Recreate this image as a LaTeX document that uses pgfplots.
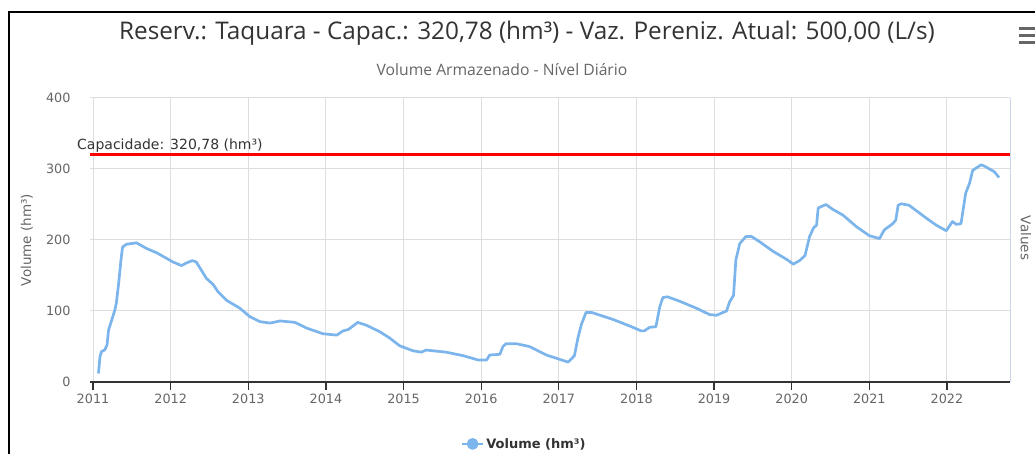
\documentclass[border=0pt]{standalone}
\usepackage{pgfplots}
\pgfplotsset{compat=1.18}
\usepackage{fontspec}
\setmainfont{DejaVu Sans}
\newfontfamily\titlefont{Open Sans}
\definecolor{hcblue}{HTML}{7CB5EC}
\definecolor{hcgrid}{HTML}{DDDDDD}
\definecolor{hcaxis}{HTML}{CCD6EB}
\definecolor{txtdark}{HTML}{333333}
\definecolor{txtgrey}{HTML}{666666}
\begin{document}
\begin{tikzpicture}[x=1pt,y=1pt]
\path[use as bounding box] (0,0) rectangle (1035,454);
\draw[black, line width=1.5pt] (9,-2) -- (9,442) -- (1037,442);
% title and subtitle
\node[text=txtdark, font=\titlefont\fontsize{24.3}{27}\selectfont] at (527,421) {Reserv.: Taquara - Capac.: 320,78 (hm³) - Vaz. Pereniz. Atual: 500,00 (L/s)};
\node[text=txtgrey, font=\titlefont\fontsize{15.7}{18}\selectfont] at (502,384) {Volume Armazenado - Nível Diário};
\node[text=txtgrey, rotate=90, font=\fontsize{13.5}{16}\selectfont] at (27,214) {Volume (hm³)};
\node[text=txtgrey, rotate=-90, font=\fontsize{13.5}{16}\selectfont] at (1026,216) {Values};
% menu icon
\foreach \yy in {425,418,411} \draw[txtgrey, line width=3pt] (1019,\yy) -- (1037,\yy);
\begin{axis}[
  at={(90pt,72pt)}, anchor=south west,
  scale only axis, width=920pt, height=284pt,
  xmin=2010.961, xmax=2022.811, ymin=0, ymax=400,
  xtick={2011,2012,...,2022}, ytick={0,100,200,300,400},
  grid=major, major grid style={hcgrid, line width=1pt},
  axis x line*=bottom, axis y line*=left,
  x axis line style={txtdark, line width=1.2pt, -},
  y axis line style={draw=none},
  xtick style={txtdark, line width=1.2pt},
  ytick style={draw=none},
  tick align=outside, major tick length=8pt,
  x tick label style={/pgf/number format/1000 sep={}, text=txtgrey, font=\fontsize{12.8}{15}\selectfont},
  y tick label style={text=txtgrey, font=\fontsize{12.8}{15}\selectfont, xshift=-8pt},
  /pgf/number format/assume math mode=true,
  clip mode=individual,
  legend style={at={(0.472,-0.218)}, anchor=center, draw=none, fill=none, font=\bfseries\fontsize{13}{15}\selectfont, text=txtdark},
  legend image code/.code={\draw[hcblue, line width=2.5pt] (0pt,0pt) -- (21pt,0pt); \fill[hcblue] (10.5pt,0pt) circle (4.5pt);},
  after end axis/.code={\draw[hcaxis, line width=1pt] (rel axis cs:1,0) -- (rel axis cs:1,1);},
]
\addplot[red, line width=3pt, forget plot] coordinates {(2010.961,320.78) (2022.811,320.78)};
\addplot[hcblue, line width=2.7pt, line join=round] coordinates {
(2011.07,12) (2011.09,36) (2011.11,43) (2011.15,45) (2011.18,52) (2011.20,73) (2011.24,87) (2011.28,101) (2011.30,111) (2011.33,139) (2011.36,172) (2011.38,190) (2011.43,194) (2011.56,196) (2011.69,188) (2011.82,182) (2012.03,169) (2012.14,164) (2012.21,168) (2012.28,171) (2012.33,169) (2012.46,146) (2012.55,137) (2012.61,127) (2012.72,115) (2012.89,104) (2013.02,92) (2013.15,85) (2013.28,83) (2013.41,86) (2013.60,84) (2013.75,76) (2013.96,68) (2014.14,66) (2014.22,72) (2014.29,74) (2014.41,84) (2014.52,80) (2014.69,71) (2014.82,62) (2014.95,51) (2015.12,44) (2015.23,42) (2015.29,45) (2015.55,42) (2015.77,37) (2015.96,31) (2016.07,31) (2016.11,38) (2016.24,39) (2016.28,50) (2016.32,54) (2016.45,54) (2016.62,50) (2016.84,38) (2017.12,28) (2017.20,37) (2017.25,64) (2017.29,81) (2017.35,98) (2017.42,98) (2017.70,88) (2017.91,79) (2018.06,72) (2018.10,72) (2018.17,77) (2018.25,78) (2018.30,106) (2018.34,119) (2018.40,120) (2018.55,114) (2018.77,104) (2018.94,95) (2019.03,94) (2019.16,100) (2019.20,113) (2019.25,122) (2019.28,172) (2019.33,195) (2019.41,205) (2019.48,205) (2019.58,198) (2019.76,184) (2019.93,173) (2020.02,166) (2020.10,171) (2020.17,178) (2020.23,205) (2020.28,217) (2020.32,221) (2020.34,245) (2020.44,250) (2020.53,243) (2020.66,235) (2020.83,219) (2021.00,206) (2021.13,202) (2021.19,214) (2021.30,223) (2021.34,228) (2021.37,249) (2021.41,251) (2021.51,249) (2021.73,231) (2021.86,221) (2021.99,213) (2022.07,226) (2022.12,222) (2022.18,223) (2022.24,266) (2022.29,280) (2022.33,298) (2022.44,306) (2022.50,303) (2022.61,296) (2022.67,288)
};
\addlegendentry{Volume (hm³)}
\node[anchor=base west, inner sep=0pt, text=txtdark, font=\fontsize{14}{16}\selectfont, xshift=-13pt, yshift=5pt] at (axis cs:2010.961,320.78) {Capacidade: 320,78 (hm³)};
\end{axis}
\end{tikzpicture}
\end{document}
